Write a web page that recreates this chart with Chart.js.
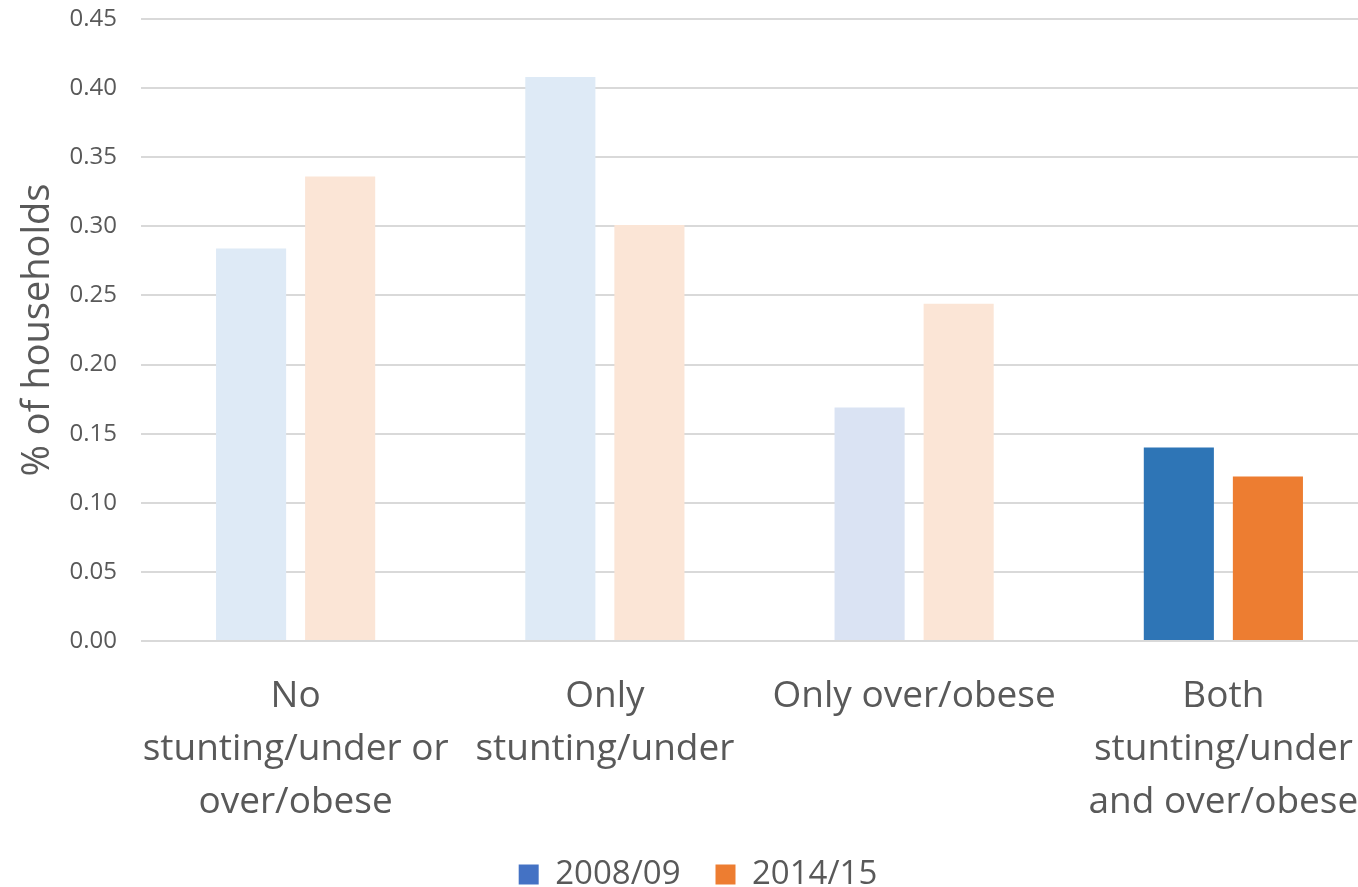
<!DOCTYPE html>
<html>
<head>
<meta charset="utf-8">
<script src="https://cdn.jsdelivr.net/npm/chart.js@4/dist/chart.umd.min.js"></script>
<style>
  html, body { margin: 0; padding: 0; background: #fff; overflow: hidden; }
  #wrap { width: 1358px; height: 887px; overflow: hidden; }
  #box { width: 1378px; height: 887px; position: relative; }
</style>
</head>
<body>
<div id="wrap"><div id="box"><canvas id="chart"></canvas></div></div>
<script>
// Household malnutrition categories
const categories = [
  ['No', 'stunting/under or', 'over/obese'],
  ['Only', 'stunting/under'],
  'Only over/obese',
  ['Both', 'stunting/under', 'and over/obese']
];
const seriesNames = ['2008/09', '2014/15'];
const values2008 = [0.284, 0.408, 0.169, 0.140];
const values2014 = [0.336, 0.301, 0.244, 0.119];
const yTicks = [0, 0.05, 0.10, 0.15, 0.20, 0.25, 0.30, 0.35, 0.40, 0.45];

// Only the last group is emphasised; others are faded
const blueFills = ['#DEEAF6', '#DEEAF6', '#DAE3F3', '#2E75B6'];
const orangeFills = ['#FBE5D6', '#FBE5D6', '#FBE5D6', '#ED7D31'];
const legendFills = ['#4472C4', '#ED7D31'];

const FONT = '"Open Sans", "Noto Sans", sans-serif';
const TEXT = '#595959';
const GRID = '#D9D9D9';

// Nudge the legend so it sits centred under the plot rather than the canvas
const legendShift = {
  id: 'legendShift',
  afterLayout(chart) {
    const lg = chart.legend;
    if (lg) { lg.left += 9; lg.right += 9; }
  }
};

new Chart(document.getElementById('chart'), {
  type: 'bar',
  plugins: [legendShift],
  data: {
    labels: categories,
    datasets: [
      { label: seriesNames[0], data: values2008, backgroundColor: blueFills,
        categoryPercentage: 0.576, barPercentage: 0.787 },
      { label: seriesNames[1], data: values2014, backgroundColor: orangeFills,
        categoryPercentage: 0.576, barPercentage: 0.787 }
    ]
  },
  options: {
    responsive: true,
    maintainAspectRatio: false,
    animation: false,
    layout: { padding: { top: 19, right: 0, bottom: -14, left: 0 } },
    plugins: {
      tooltip: { enabled: false },
      legend: {
        position: 'bottom',
        labels: {
          font: { family: FONT, size: 33 },
          color: TEXT,
          boxWidth: 20,
          boxHeight: 20,
          padding: 35,
          generateLabels: (chart) => seriesNames.map((name, i) => ({
            text: name,
            fillStyle: legendFills[i],
            strokeStyle: legendFills[i],
            lineWidth: 0,
            fontColor: TEXT,
            datasetIndex: i
          }))
        }
      }
    },
    scales: {
      x: {
        // invisible tick marks space the labels away from the axis
        grid: { display: true, drawOnChartArea: false, drawTicks: true,
                tickLength: 27, tickColor: 'rgba(0,0,0,0)', color: 'rgba(0,0,0,0)' },
        border: { display: false },
        ticks: {
          color: TEXT,
          font: { family: FONT, size: 37, lineHeight: 1.43 },
          padding: 2,
          maxRotation: 0,
          autoSkip: false
        },
        afterFit: (s) => { s.height = 182; }
      },
      y: {
        min: 0,
        max: 0.45,
        afterBuildTicks: (s) => { s.ticks = yTicks.map(v => ({ value: v })); },
        grid: { color: GRID, lineWidth: 2, drawTicks: true, tickLength: 22,
                tickColor: 'rgba(0,0,0,0)' },
        border: { display: false },
        ticks: {
          color: TEXT,
          font: { family: FONT, size: 24 },
          padding: 2,
          callback: (v) => Number(v).toFixed(2)
        },
        title: {
          display: true,
          text: '% of households',
          color: TEXT,
          font: { family: FONT, size: 38 },
          padding: { top: 15, bottom: 4 }
        },
        afterFit: (s) => { s.width = 141; }
      }
    }
  }
});
</script>
</body>
</html>
